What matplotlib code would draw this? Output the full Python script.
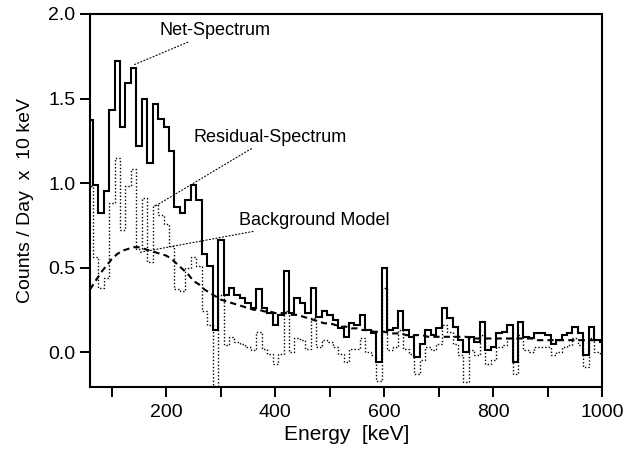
import numpy as np
import matplotlib
matplotlib.use("Agg")
import matplotlib.pyplot as plt
import matplotlib.ticker as mticker

plt.rcParams["font.family"] = ["Liberation Sans", "DejaVu Sans"]

# 10 keV bins, centres 60 ... 1000 keV
energy = np.arange(60, 1001, 10)

net = [1.37, 0.99, 0.82, 0.95, 1.43, 1.72, 1.33, 1.59, 1.68, 1.22,
       1.50, 1.12, 1.47, 1.38, 1.33, 1.19, 0.86, 0.82, 0.90, 0.99,
       0.90, 0.58, 0.51, 0.13, 0.66, 0.34, 0.38, 0.34, 0.32, 0.29,
       0.26, 0.37, 0.26, 0.23, 0.16, 0.22, 0.48, 0.23, 0.32, 0.29,
       0.23, 0.38, 0.21, 0.24, 0.22, 0.19, 0.14, 0.09, 0.17, 0.16,
       0.22, 0.13, 0.11, -0.06, 0.50, 0.13, 0.14, 0.24, 0.13, 0.09,
       -0.03, 0.05, 0.13, 0.10, 0.14, 0.26, 0.20, 0.15, 0.07, 0.00,
       0.09, 0.06, 0.18, 0.01, 0.03, 0.11, 0.12, 0.16, -0.06, 0.18,
       0.09, 0.08, 0.11, 0.11, 0.10, 0.05, 0.07, 0.10, 0.11, 0.15,
       0.11, -0.02, 0.15, 0.07, 0.06]

residual = [0.98, 0.56, 0.38, 0.44, 0.88, 1.15, 0.72, 0.98, 1.08, 0.61,
            0.91, 0.53, 0.87, 0.81, 0.76, 0.63, 0.37, 0.36, 0.50, 0.56,
            0.51, 0.24, 0.16, -0.20, 0.34, 0.04, 0.09, 0.06, 0.05, 0.03,
            0.01, 0.12, 0.02, -0.01, -0.07, -0.01, 0.24, 0.00, 0.08, 0.07,
            0.02, 0.20, 0.03, 0.07, 0.06, 0.03, -0.01, -0.06, 0.02, 0.02,
            0.08, 0.00, -0.02, -0.17, 0.38, 0.01, 0.03, 0.13, 0.02, -0.01,
            -0.13, -0.05, 0.03, 0.01, 0.05, 0.16, 0.12, 0.05, -0.02, -0.18,
            0.01, -0.02, 0.10, -0.07, -0.05, 0.03, 0.04, 0.08, -0.13, 0.10,
            0.01, 0.00, 0.03, 0.03, 0.03, -0.02, 0.00, 0.03, 0.04, 0.08,
            0.04, -0.09, 0.08, 0.00, -0.01]

background = [0.37, 0.42, 0.47, 0.51, 0.55, 0.58, 0.60, 0.61, 0.62, 0.62,
              0.61, 0.60, 0.59, 0.58, 0.57, 0.55, 0.52, 0.49, 0.46, 0.42,
              0.40, 0.37, 0.35, 0.33, 0.31, 0.30, 0.29, 0.28, 0.27, 0.26,
              0.25, 0.25, 0.24, 0.24, 0.23, 0.23, 0.23, 0.22, 0.22, 0.21,
              0.20, 0.19, 0.18, 0.17, 0.17, 0.16, 0.15, 0.15, 0.14, 0.14,
              0.13, 0.13, 0.12, 0.12, 0.12, 0.11, 0.11, 0.11, 0.10, 0.10,
              0.10, 0.10, 0.09, 0.09, 0.09, 0.09, 0.09, 0.09, 0.09, 0.09,
              0.08, 0.08, 0.08, 0.08, 0.08, 0.08, 0.08, 0.08, 0.08, 0.08,
              0.08, 0.08, 0.07, 0.07, 0.07, 0.07, 0.07, 0.07, 0.07, 0.07,
              0.07, 0.07, 0.07, 0.07, 0.07]

edges = np.append(energy - 5, energy[-1] + 5)

fig = plt.figure(figsize=(6.24, 4.53), dpi=100)
ax = fig.add_axes([0.1442, 0.1457, 0.8213, 0.8234])

ax.stairs(residual, edges, baseline=None, color="black", lw=1.0,
          linestyle=(0, (1, 1.5)))
ax.plot(energy, background, color="black", lw=1.5, linestyle=(0, (3, 2)))
ax.stairs(net, edges, baseline=None, color="black", lw=1.5)

ax.set_xlim(60, 1000)
ax.set_ylim(-0.207, 2.0)

ax.xaxis.set_major_locator(mticker.MultipleLocator(200))
ax.xaxis.set_minor_locator(mticker.MultipleLocator(100))
ax.yaxis.set_major_locator(mticker.MultipleLocator(0.5))
ax.yaxis.set_major_formatter(mticker.FormatStrFormatter("%.1f"))
ax.tick_params(which="both", direction="out", length=7, width=1.4,
               labelsize=14, top=False, right=False)
ax.tick_params(axis="x", pad=5)
for s in ax.spines.values():
    s.set_linewidth(1.5)

ax.set_xlabel("Energy  [keV]", fontsize=15, labelpad=3)
ax.set_ylabel("Counts / Day  x  10 keV", fontsize=14, labelpad=10)

# labels with dotted leader lines
leader = dict(arrowstyle="-", color="black", lw=0.8, linestyle=(0, (1, 2)),
              shrinkA=0, shrinkB=0)
ax.annotate("Net-Spectrum", xy=(141, 1.70), xytext=(187, 1.90),
            fontsize=13, va="center", ha="left", arrowprops=leader)
ax.annotate("Residual-Spectrum", xy=(178, 0.86), xytext=(250, 1.27),
            fontsize=13, va="center", ha="left", arrowprops=leader)
ax.annotate("Background Model", xy=(152, 0.59), xytext=(333, 0.78),
            fontsize=13, va="center", ha="left", arrowprops=leader)

fig.savefig("out.png", dpi=100)
